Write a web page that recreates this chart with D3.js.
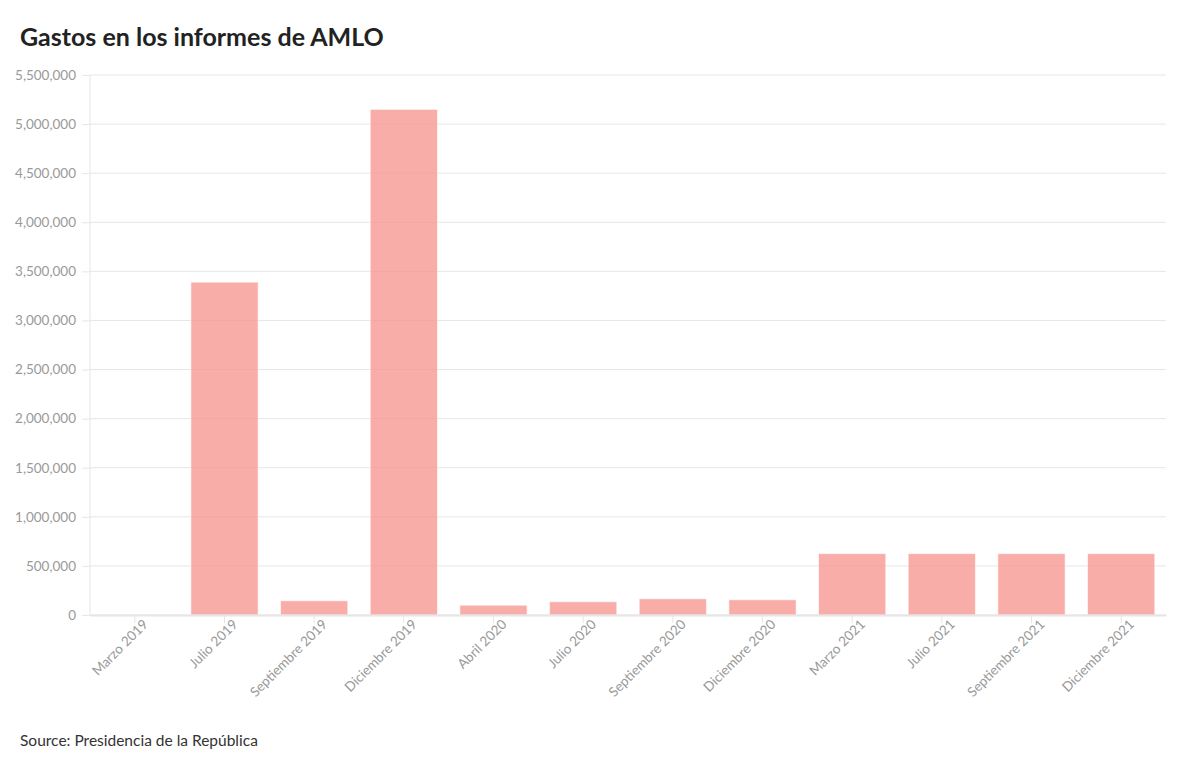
<!DOCTYPE html>
<html>
<head>
<meta charset="utf-8">
<script src="https://cdn.jsdelivr.net/npm/d3@7"></script>
<style>
  body { margin: 0; background: #fff; font-family: "Source Sans Pro", Lato, "Noto Sans", sans-serif; }
  .title { font-weight: 700; font-size: 25px; fill: #222; }
  .source { font-size: 15.5px; fill: #333; }
  .axis text { fill: #999; font-size: 13.5px; font-family: Lato, "Noto Sans", sans-serif; }
  .axis path, .axis line { stroke: #e6e6e6; }
</style>
</head>
<body>
<script>
var categories = ["Marzo 2019", "Julio 2019", "Septiembre 2019", "Diciembre 2019", "Abril 2020", "Julio 2020",
  "Septiembre 2020", "Diciembre 2020", "Marzo 2021", "Julio 2021", "Septiembre 2021", "Diciembre 2021"];
var gastos = [0, 3390000, 145000, 5150000, 100000, 135000, 165000, 155000, 625000, 625000, 625000, 625000];
var yTicks = [0, 500000, 1000000, 1500000, 2000000, 2500000, 3000000, 3500000, 4000000, 4500000, 5000000, 5500000];

var width = 1200, height = 770;
var margin = { top: 75, right: 34, bottom: 155, left: 90 };
var innerW = width - margin.left - margin.right,
    innerH = height - margin.top - margin.bottom;

var svg = d3.select("body").append("svg")
  .attr("width", width)
  .attr("height", height);

svg.append("text")
  .attr("class", "title")
  .attr("x", 20)
  .attr("y", 46)
  .text("Gastos en los informes de AMLO");

svg.append("text")
  .attr("class", "source")
  .attr("x", 20)
  .attr("y", 746)
  .text("Source: Presidencia de la República");

var g = svg.append("g")
  .attr("transform", "translate(" + margin.left + "," + margin.top + ")");

var x = d3.scaleBand()
  .domain(categories)
  .range([0, innerW])
  .paddingInner(0.25)
  .paddingOuter(0.125);

var y = d3.scaleLinear()
  .domain([0, 5500000])
  .range([innerH, 0]);

// grid lines
g.append("g")
  .selectAll("line")
  .data(yTicks)
  .enter().append("line")
  .attr("x1", 0)
  .attr("x2", innerW)
  .attr("y1", function (d) { return y(d); })
  .attr("y2", function (d) { return y(d); })
  .attr("stroke", "#e6e6e6");

var yAxis = g.append("g")
  .attr("class", "axis")
  .call(d3.axisLeft(y).tickValues(yTicks).tickSize(8).tickPadding(6).tickFormat(d3.format(",")));
yAxis.select(".domain").attr("d", "M0," + innerH + "V0");

g.selectAll(".bar")
  .data(gastos)
  .enter().append("rect")
  .attr("class", "bar")
  .attr("x", function (d, i) { return x(categories[i]); })
  .attr("y", function (d) { return y(d); })
  .attr("width", x.bandwidth())
  .attr("height", function (d) { return innerH - y(d); })
  .attr("fill", "#f7928c")
  .attr("fill-opacity", 0.75)
  .attr("stroke", "#fff")
  .attr("stroke-opacity", 0.6)
  .attr("stroke-width", 1);

var xAxis = g.append("g")
  .attr("class", "axis")
  .attr("transform", "translate(0," + innerH + ")")
  .call(d3.axisBottom(x).tickSize(8).tickSizeOuter(0));
xAxis.select(".domain").attr("stroke-width", 2);
xAxis.selectAll("text")
  .attr("text-anchor", "end")
  .attr("dx", "0.2em")
  .attr("dy", "0.6em")
  .attr("transform", "rotate(-45)")
  .attr("y", 9);
</script>
</body>
</html>
